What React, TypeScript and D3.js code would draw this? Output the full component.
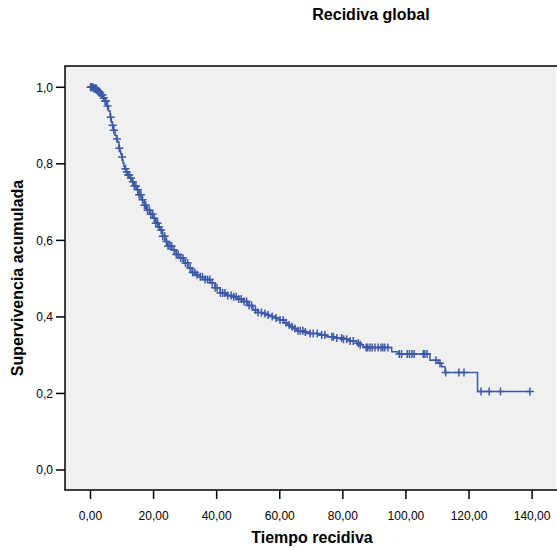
import React, { useEffect, useRef } from 'react'
import * as d3 from 'd3'

// Kaplan-Meier steps (time, cumulative survival)
const eventTimes = [0.0, 1.1, 2.1, 2.7, 3.3, 4.0, 4.6, 5.2, 5.7, 6.2, 6.6, 6.9, 7.2, 7.8, 8.2, 8.5, 9.0, 9.4, 9.6, 9.9, 10.1, 10.3, 10.6, 10.9, 11.2, 11.8, 12.5, 13.2, 13.7, 14.7, 15.4, 16.2, 17.0, 17.8, 18.9, 19.8, 20.7, 21.4, 22.1, 22.8, 23.6, 24.5, 25.8, 27.1, 28.4, 29.6, 30.9, 32.2, 33.4, 34.8, 36.3, 37.9, 39.5, 41.1, 43.0, 45.2, 46.8, 48.4, 49.9, 51.5, 53.1, 54.3, 55.9, 56.9, 58.5, 60.1, 61.3, 62.3, 63.2, 64.2, 65.4, 67.4, 69.6, 72.1, 74.9, 77.5, 80.1, 82.0, 84.4, 85.5, 86.4, 87.4, 95.5, 97.5, 107.6, 110.2, 111.3, 112.4, 122.7]
const survival = [1.0, 0.997, 0.991, 0.986, 0.98, 0.972, 0.964, 0.951, 0.938, 0.922, 0.909, 0.901, 0.888, 0.875, 0.865, 0.858, 0.841, 0.832, 0.826, 0.818, 0.81, 0.802, 0.794, 0.787, 0.779, 0.771, 0.763, 0.753, 0.742, 0.732, 0.719, 0.706, 0.692, 0.679, 0.669, 0.658, 0.645, 0.635, 0.627, 0.611, 0.597, 0.585, 0.575, 0.563, 0.554, 0.541, 0.528, 0.516, 0.51, 0.505, 0.498, 0.489, 0.476, 0.4625, 0.456, 0.453, 0.447, 0.44, 0.43, 0.418, 0.4115, 0.409, 0.405, 0.401, 0.397, 0.392, 0.385, 0.379, 0.374, 0.37, 0.364, 0.3606, 0.357, 0.353, 0.348, 0.345, 0.3415, 0.337, 0.331, 0.327, 0.322, 0.32, 0.309, 0.303, 0.287, 0.279, 0.27, 0.255, 0.205]

// censored cases (the + marks)
const censorTimes = [
  0.0, 0.2, 0.5, 0.8, 1.1, 1.3, 1.6, 1.9, 2.2, 2.5, 2.8, 3.1, 3.5, 3.8, 4.2, 4.6, 4.9, 5.4, 6.4, 7.0, 7.4,
  8.4, 9.1, 10.0, 11.1, 11.5, 11.9, 12.3, 12.8, 13.4, 13.9, 14.4, 15.0, 15.4, 16.0, 16.5, 17.1, 17.5, 18.1, 18.7,
  19.1, 19.7, 20.2, 20.7, 21.3, 21.8, 22.4, 22.9, 23.5, 24.1, 24.6, 25.2,
  25.7, 26.5, 27.2, 27.8, 28.6, 29.3, 30.1, 30.8, 31.6, 32.4, 33.1, 33.8, 34.8, 35.5, 36.3, 37.1, 37.8, 38.6,
  39.5, 40.1, 41.2, 41.9, 42.6, 43.5, 44.6, 45.4, 46.2, 47.0, 47.8, 48.7, 49.5, 50.3, 51.1, 52.3, 53.1,
  54.2, 55.3, 56.3, 57.6, 58.8, 60.1, 61.1, 62.0, 63.0, 63.9, 64.8, 65.8, 66.5, 67.3, 68.1, 69.6, 70.6, 71.9,
  73.3, 74.3, 76.5, 77.0, 78.1, 79.6, 80.2, 81.2, 82.3, 83.3, 84.9, 85.5, 87.4, 87.9, 88.6, 89.3, 90.2, 91.2,
  92.1, 92.7, 93.3, 94.3, 97.9, 98.6, 100.4, 101.1, 101.9, 102.6, 105.5, 106.0, 106.7, 109.5, 110.8,
  112.6, 116.8, 118.4, 123.8, 126.4, 130.0, 139.3
]

const xTicks = [0, 20, 40, 60, 80, 100, 120, 140]
const yTicks = [0, 0.2, 0.4, 0.6, 0.8, 1.0]

const chartTitle = 'Recidiva global'
const xTitle = 'Tiempo recidiva'
const yTitle = 'Supervivencia acumulada'

const BLUE = '#3c58a8'

export default function App() {
  const ref = useRef<SVGSVGElement>(null)

  useEffect(() => {
    const width = 557
    const height = 548
    const left = 65, right = 556, top = 66, bottom = 490

    const svg = d3.select(ref.current)
    svg.selectAll('*').remove()
    svg.attr('width', width).attr('height', height)

    // spanish decimal comma
    const es = d3.formatLocale({ decimal: ',', thousands: '.', grouping: [3], currency: ['', '€'] })
    const fx = es.format('.2f')
    const fy = es.format('.1f')

    const x = d3.scaleLinear().domain([0, 140]).range([90.5, 532.1])
    const y = d3.scaleLinear().domain([0, 1]).range([470, 87.3])

    // plot background
    svg.append('rect')
      .attr('x', left).attr('y', top)
      .attr('width', right - left).attr('height', bottom - top)
      .attr('fill', '#f0f0f0')

    // frame (no right side)
    svg.append('path')
      .attr('d', `M${right + 1},${top}H${left}V${bottom}H${right + 1}`)
      .attr('fill', 'none')
      .attr('stroke', '#000')
      .attr('stroke-width', 1.5)

    const font = 'Liberation Sans, Arial, Helvetica, sans-serif'

    // y axis ticks
    const yg = svg.append('g')
    yTicks.forEach(t => {
      yg.append('line')
        .attr('x1', left - 9).attr('x2', left)
        .attr('y1', y(t)).attr('y2', y(t))
        .attr('stroke', '#000').attr('stroke-width', 1.5)
      yg.append('text')
        .attr('x', left - 12).attr('y', y(t) + 4.3)
        .attr('text-anchor', 'end')
        .attr('font-family', font).attr('font-size', 12)
        .text(fy(t))
    })

    // x axis ticks
    const xg = svg.append('g')
    xTicks.forEach(t => {
      xg.append('line')
        .attr('x1', x(t)).attr('x2', x(t))
        .attr('y1', bottom).attr('y2', bottom + 9)
        .attr('stroke', '#000').attr('stroke-width', 1.5)
      xg.append('text')
        .attr('x', x(t)).attr('y', bottom + 30)
        .attr('text-anchor', 'middle')
        .attr('font-family', font).attr('font-size', 12)
        .text(fx(t))
    })

    // titles
    svg.append('text')
      .attr('x', 371).attr('y', 20)
      .attr('text-anchor', 'middle')
      .attr('font-family', font).attr('font-size', 16).attr('font-weight', 'bold')
      .text(chartTitle)
    svg.append('text')
      .attr('x', 312).attr('y', 543)
      .attr('text-anchor', 'middle')
      .attr('font-family', font).attr('font-size', 16).attr('font-weight', 'bold')
      .text(xTitle)
    svg.append('text')
      .attr('transform', `translate(23,${(top + bottom) / 2}) rotate(-90)`)
      .attr('text-anchor', 'middle')
      .attr('font-family', font).attr('font-size', 16).attr('font-weight', 'bold')
      .text(yTitle)

    // step curve
    const steps: [number, number][] = eventTimes.map((t, i) => [t, survival[i]])
    const lastT = d3.max(censorTimes) as number
    steps.push([lastT, survival[survival.length - 1]])

    const line = d3.line<[number, number]>()
      .x(d => x(d[0]))
      .y(d => y(d[1]))
      .curve(d3.curveStepAfter)

    svg.append('path')
      .datum(steps)
      .attr('d', line)
      .attr('fill', 'none')
      .attr('stroke', BLUE)
      .attr('stroke-width', 1.5)

    // censor marks
    const bis = d3.bisector((d: number) => d).right
    const survAt = (t: number) => {
      const i = bis(eventTimes, t) - 1
      return survival[Math.max(0, i)]
    }
    const h = 4
    svg.append('g')
      .selectAll('path')
      .data(censorTimes)
      .enter()
      .append('path')
      .attr('d', d => {
        const cx = x(d), cy = y(survAt(d))
        return `M${cx - h},${cy}H${cx + h}M${cx},${cy - h}V${cy + h}`
      })
      .attr('fill', 'none')
      .attr('stroke', BLUE)
      .attr('stroke-width', 1.5)
  }, [])

  return (
    <svg ref={ref} style={{ position: 'absolute', left: 0, top: 0, display: 'block' }} />
  )
}
